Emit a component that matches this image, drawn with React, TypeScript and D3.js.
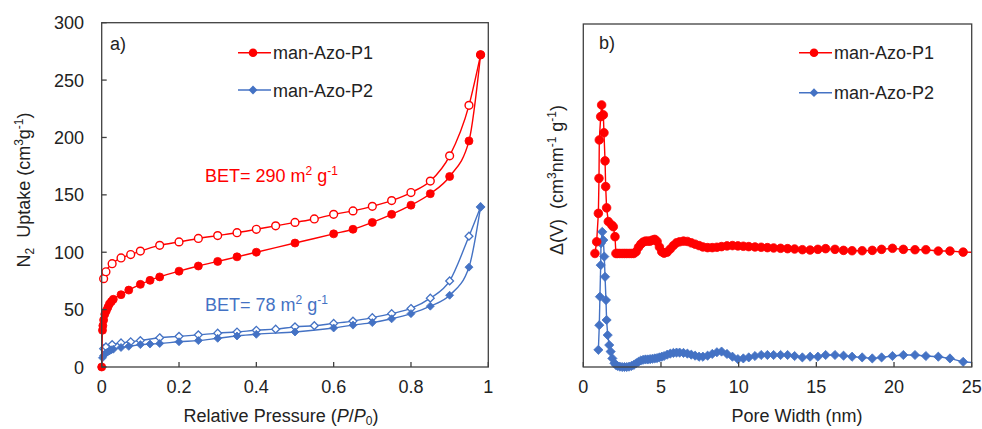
import * as d3 from "d3";
import React from "react";

const FONT = "'Liberation Sans', Arial, Helvetica, sans-serif";
const RED = "#FF0000";
const BLUE = "#4472C4";
const AXIS = "#404040";

// a) N2 isotherms, man-Azo-P1 (red) / man-Azo-P2 (blue)
const p1AdsP = [0, 0.002, 0.003, 0.005, 0.008, 0.012, 0.016, 0.02, 0.025, 0.03, 0.05, 0.07, 0.1, 0.125, 0.15, 0.2, 0.25, 0.3, 0.35, 0.4, 0.5, 0.6, 0.65, 0.7, 0.75, 0.8, 0.85, 0.9, 0.95, 0.98];
const p1AdsV = [0, 32, 36, 41, 46, 49, 52, 55, 57, 59, 63, 67, 72, 75.5, 78.5, 83.5, 88, 92, 96, 100, 108, 116, 120, 126, 133, 141, 151, 166, 197, 272];
const p1DesP = [0.005, 0.011, 0.027, 0.05, 0.075, 0.1, 0.15, 0.2, 0.25, 0.3, 0.35, 0.4, 0.45, 0.5, 0.55, 0.6, 0.65, 0.7, 0.75, 0.8, 0.85, 0.9, 0.95, 0.98];
const p1DesV = [77, 83, 90, 95, 98, 101, 106, 109, 112, 114.5, 117, 120, 123, 126, 129, 133, 136, 140, 145, 152, 162, 184, 228, 272];
const p2AdsP = [0, 0.002, 0.005, 0.01, 0.015, 0.02, 0.025, 0.03, 0.05, 0.07, 0.1, 0.125, 0.15, 0.2, 0.25, 0.3, 0.35, 0.4, 0.5, 0.6, 0.65, 0.7, 0.75, 0.8, 0.85, 0.9, 0.95, 0.98];
const p2AdsV = [0, 8, 10, 12, 13, 14, 15, 15.5, 17, 18, 19.5, 20, 20.5, 22, 23, 25, 27, 28.5, 30.5, 34, 36.5, 38.7, 42, 46.5, 53, 62.5, 87, 139.5];
const p2DesP = [0.005, 0.011, 0.027, 0.05, 0.075, 0.1, 0.15, 0.2, 0.25, 0.3, 0.35, 0.4, 0.45, 0.5, 0.55, 0.6, 0.65, 0.7, 0.75, 0.8, 0.85, 0.9, 0.95, 0.98];
const p2DesV = [16, 17.5, 19.5, 21, 22, 23, 25.5, 26.7, 28, 29.5, 30.5, 32, 33, 35, 36, 38, 40, 43, 46.5, 51, 60, 75, 114, 139.5];

const uptakeTicks = [0, 50, 100, 150, 200, 250, 300];
const pressureTicks = [0, 0.2, 0.4, 0.6, 0.8, 1];

// b) pore size distribution (arbitrary units, no scale shown)
const p1PoreW = [0.75, 0.86, 0.97, 1.01, 1.03, 1.12, 1.18, 1.29, 1.33, 1.4, 1.44, 1.5, 1.61, 1.83, 1.93, 2.04, 2.1, 2.2, 2.35, 2.5, 2.65, 2.8, 2.95, 3.1, 3.25, 3.4, 3.55, 3.7, 3.85, 4.0, 4.15, 4.3, 4.45, 4.6, 4.75, 4.9, 5.05, 5.2, 5.4, 5.6, 5.8, 6.0, 6.2, 6.45, 6.7, 6.95, 7.2, 7.45, 7.7, 8.0, 8.3, 8.6, 8.9, 9.25, 9.6, 9.95, 10.3, 10.65, 11.05, 11.45, 11.85, 12.25, 12.7, 13.15, 13.6, 14.1, 14.6, 15.1, 15.6, 16.2, 16.75, 17.3, 17.95, 18.6, 19.2, 19.9, 20.6, 21.35, 22.05, 22.85, 23.6, 24.45, 25.3];
const p1DeltaV = [33.1, 36.5, 44.8, 55, 66.2, 73, 76.4, 73.5, 68.3, 60.1, 52.6, 46.4, 42.4, 41.4, 40.9, 38, 33.1, 33.1, 33.1, 33.1, 33.1, 33.1, 33.1, 33.1, 33.1, 33.6, 34.9, 35.8, 36.4, 36.7, 36.7, 36.7, 37.0, 37.2, 36.6, 35.0, 33.6, 33.2, 33.5, 34.4, 35.4, 36.2, 36.5, 36.7, 36.6, 36.2, 35.8, 35.4, 35.0, 34.8, 34.8, 34.9, 35.1, 35.3, 35.4, 35.3, 35.2, 35.1, 35.0, 34.9, 34.8, 34.7, 34.6, 34.5, 34.4, 34.2, 34.1, 34.3, 34.5, 34.3, 34.0, 33.9, 33.9, 34.0, 34.3, 34.6, 34.3, 34.2, 34.2, 33.8, 33.8, 33.5, 33.4];
const p2PoreW = [0.97, 1.03, 1.07, 1.12, 1.14, 1.22, 1.29, 1.35, 1.4, 1.46, 1.5, 1.57, 1.67, 1.76, 1.87, 2.0, 2.1, 2.2, 2.35, 2.5, 2.65, 2.8, 2.95, 3.1, 3.25, 3.4, 3.55, 3.7, 3.85, 4.0, 4.15, 4.3, 4.45, 4.6, 4.75, 4.9, 5.05, 5.2, 5.4, 5.6, 5.8, 6.0, 6.2, 6.45, 6.7, 6.95, 7.2, 7.45, 7.7, 8.0, 8.3, 8.6, 8.9, 9.25, 9.6, 9.95, 10.3, 10.65, 11.05, 11.45, 11.85, 12.25, 12.7, 13.15, 13.6, 14.1, 14.6, 15.1, 15.6, 16.2, 16.75, 17.3, 17.95, 18.6, 19.2, 19.9, 20.6, 21.35, 22.05, 22.85, 23.6, 24.45, 25.3];
const p2DeltaV = [5.0, 12.2, 20.5, 29.7, 36.1, 39.4, 37, 32.2, 26.3, 19.5, 13.7, 9.3, 6.4, 4.5, 2.5, 1.1, 0.6, 0.3, 0.1, 0, 0, 0, 0.1, 0.3, 0.6, 1.1, 1.5, 1.9, 2.1, 2.2, 2.2, 2.3, 2.4, 2.5, 2.6, 2.8, 3.0, 3.2, 3.6, 3.9, 4.1, 4.2, 4.2, 4.1, 3.9, 3.6, 3.3, 3.0, 3.0, 3.3, 3.8, 4.3, 4.5, 3.8, 3.0, 2.3, 2.5, 2.8, 3.2, 3.5, 3.5, 3.5, 3.5, 3.5, 3.2, 2.8, 3.0, 3.0, 3.5, 3.5, 3.3, 3.0, 2.8, 2.5, 2.8, 3.2, 3.5, 3.5, 3.2, 3.0, 2.5, 1.5, 1.2];

const poreTicks = [0, 5, 10, 15, 20, 25];

const W = 982;
const H = 429;

// panel a geometry
const aL = 101.7, aR = 488.3, aT = 22.7, aB = 367;
// panel b geometry
const bL = 583.3, bR = 971.7, bT = 24, bB = 367;

const xA = d3.scaleLinear().domain([0, 1]).range([aL, aR]);
const yA = d3.scaleLinear().domain([0, 300]).range([aB, aT]);
const xB = d3.scaleLinear().domain([0, 25]).range([bL, bR]);
const yB = d3.scaleLinear().domain([0, 100]).range([bB, bT]);

const diamondType = (d3 as any).symbolDiamond2 || d3.symbolDiamond;
const diamond = (r: number) => d3.symbol().type(diamondType).size(Math.pow(r / 0.62625, 2))() as string;

function zip(xs: number[], ys: number[]): [number, number][] {
  return xs.map((x, i) => [x, ys[i]]);
}

function Circles({ pts, x, y, r, open, color }: any) {
  return (
    <g>
      {pts.map((p: [number, number], i: number) => (
        <circle key={i} cx={x(p[0])} cy={y(p[1])} r={r} fill={open ? "#fff" : color} stroke={color} strokeWidth={open ? 1.4 : 0.8} />
      ))}
    </g>
  );
}

function Diamonds({ pts, x, y, r, open, color }: any) {
  const d = diamond(r);
  return (
    <g>
      {pts.map((p: [number, number], i: number) => (
        <path key={i} d={d} transform={`translate(${x(p[0])},${y(p[1])})`} fill={open ? "#fff" : color} stroke={color} strokeWidth={open ? 1.3 : 0.8} />
      ))}
    </g>
  );
}

function Legend({ x, y1, y2 }: { x: number; y1: number; y2: number }) {
  return (
    <g fontFamily={FONT} fontSize={18}>
      <line x1={x} x2={x + 33} y1={y1} y2={y1} stroke={RED} strokeWidth={1.5} />
      <circle cx={x + 15} cy={y1} r={4.3} fill={RED} />
      <text x={x + 35} y={y1 + 6.5} fill="#222">man-Azo-P1</text>
      <line x1={x} x2={x + 33} y1={y2} y2={y2} stroke={BLUE} strokeWidth={1.5} />
      <path d={diamond(4.4)} transform={`translate(${x + 15},${y2})`} fill={BLUE} />
      <text x={x + 35} y={y2 + 6.5} fill="#222">man-Azo-P2</text>
    </g>
  );
}

export default function App() {
  const lineA = d3.line<[number, number]>().x((d) => xA(d[0])).y((d) => yA(d[1])).curve(d3.curveMonotoneX);
  const lineB = d3.line<[number, number]>().x((d) => xB(d[0])).y((d) => yB(d[1]));

  const p1Ads = zip(p1AdsP, p1AdsV);
  const p1Des = zip(p1DesP, p1DesV);
  const p2Ads = zip(p2AdsP, p2AdsV);
  const p2Des = zip(p2DesP, p2DesV);
  const p1Psd = zip(p1PoreW, p1DeltaV);
  const p2Psd = zip(p2PoreW, p2DeltaV);

  const sub = { fontSize: 12 };

  return (
    <svg width={W} height={H} style={{ position: "absolute", left: 0, top: 0, background: "#fff" }} fontFamily={FONT}>
      <defs>
        <clipPath id="clipB">
          <rect x={bL} y={0} width={bR - bL} height={H} />
        </clipPath>
      </defs>

      {/* ---------- panel a ---------- */}
      <path d={lineA(p2Des) || ""} fill="none" stroke={BLUE} strokeWidth={1.4} />
      <path d={lineA(p2Ads) || ""} fill="none" stroke={BLUE} strokeWidth={1.4} />
      <Diamonds pts={p2Des} x={xA} y={yA} r={3.9} open color={BLUE} />
      <Diamonds pts={p2Ads} x={xA} y={yA} r={4} color={BLUE} />
      <path d={lineA(p1Des) || ""} fill="none" stroke={RED} strokeWidth={1.4} />
      <path d={lineA(p1Ads) || ""} fill="none" stroke={RED} strokeWidth={1.4} />
      <Circles pts={p1Des} x={xA} y={yA} r={3.9} open color={RED} />
      <Circles pts={p1Ads} x={xA} y={yA} r={4} color={RED} />

      <rect x={aL} y={aT} width={aR - aL} height={aB - aT} fill="none" stroke={AXIS} strokeWidth={1.3} />
      {uptakeTicks.map((t) => (
        <g key={t}>
          <line x1={aL} x2={aL + 5} y1={yA(t)} y2={yA(t)} stroke={AXIS} strokeWidth={1.3} />
          <text x={84} y={yA(t) + 6.5} textAnchor="end" fontSize={18} fill="#222">{t}</text>
        </g>
      ))}
      {pressureTicks.map((t) => (
        <g key={t}>
          <line x1={xA(t)} x2={xA(t)} y1={aB} y2={aB - 5} stroke={AXIS} strokeWidth={1.3} />
          <text x={xA(t)} y={393} textAnchor="middle" fontSize={18} fill="#222">{t}</text>
        </g>
      ))}
      <text x={281} y={422} textAnchor="middle" fontSize={18} fill="#222">
        Relative Pressure (<tspan fontStyle="italic">P</tspan>/<tspan fontStyle="italic">P</tspan>
        <tspan dy={3} style={sub}>0</tspan>
        <tspan dy={-3}>)</tspan>
      </text>
      <text transform="translate(30,190) rotate(-90)" textAnchor="middle" fontSize={18} fill="#222" style={{ whiteSpace: "pre" }}>
        N<tspan dy={4} style={sub}>2</tspan>
        <tspan dy={-4}>{"  Uptake (cm"}</tspan>
        <tspan dy={-7} style={sub}>3</tspan>
        <tspan dy={7}>g</tspan>
        <tspan dy={-7} style={sub}>-1</tspan>
        <tspan dy={7}>)</tspan>
      </text>
      <text x={110} y={50} fontSize={18} fill="#222">a)</text>
      <text x={205} y={182} fontSize={18} fill={RED}>
        BET= 290 m<tspan dy={-7} style={sub}>2</tspan>
        <tspan dy={7}> g</tspan>
        <tspan dy={-7} style={sub}>-1</tspan>
      </text>
      <text x={205} y={311} fontSize={18} fill={BLUE}>
        BET= 78 m<tspan dy={-7} style={sub}>2</tspan>
        <tspan dy={7}> g</tspan>
        <tspan dy={-7} style={sub}>-1</tspan>
      </text>
      <Legend x={238} y1={52.7} y2={90} />

      {/* ---------- panel b ---------- */}
      <g clipPath="url(#clipB)">
        <path d={lineB(p2Psd) || ""} fill="none" stroke={BLUE} strokeWidth={1.4} />
        <path d={lineB(p1Psd) || ""} fill="none" stroke={RED} strokeWidth={1.4} />
      </g>
      <Diamonds pts={p2Psd.filter((p) => p[0] <= 25)} x={xB} y={yB} r={4.6} color={BLUE} />
      <Circles pts={p1Psd.filter((p) => p[0] <= 25)} x={xB} y={yB} r={4.3} color={RED} />

      <rect x={bL} y={bT} width={bR - bL} height={bB - bT} fill="none" stroke={AXIS} strokeWidth={1.3} />
      {poreTicks.map((t) => (
        <g key={t}>
          <line x1={xB(t)} x2={xB(t)} y1={bB} y2={bB - 5} stroke={AXIS} strokeWidth={1.3} />
          <text x={xB(t)} y={393} textAnchor="middle" fontSize={18} fill="#222">{t}</text>
        </g>
      ))}
      <text x={797} y={422} textAnchor="middle" fontSize={18} fill="#222">Pore Width (nm)</text>
      <text transform="translate(563,180) rotate(-90)" textAnchor="middle" fontSize={18} fill="#222" style={{ whiteSpace: "pre" }}>
        Δ(V)  (cm<tspan dy={-7} style={sub}>3</tspan>
        <tspan dy={7}>nm</tspan>
        <tspan dy={-7} style={sub}>-1</tspan>
        <tspan dy={7}> g</tspan>
        <tspan dy={-7} style={sub}>-1</tspan>
        <tspan dy={7}>)</tspan>
      </text>
      <text x={599} y={49} fontSize={18} fill="#222">b)</text>
      <Legend x={799} y1={52.7} y2={92.7} />
    </svg>
  );
}
